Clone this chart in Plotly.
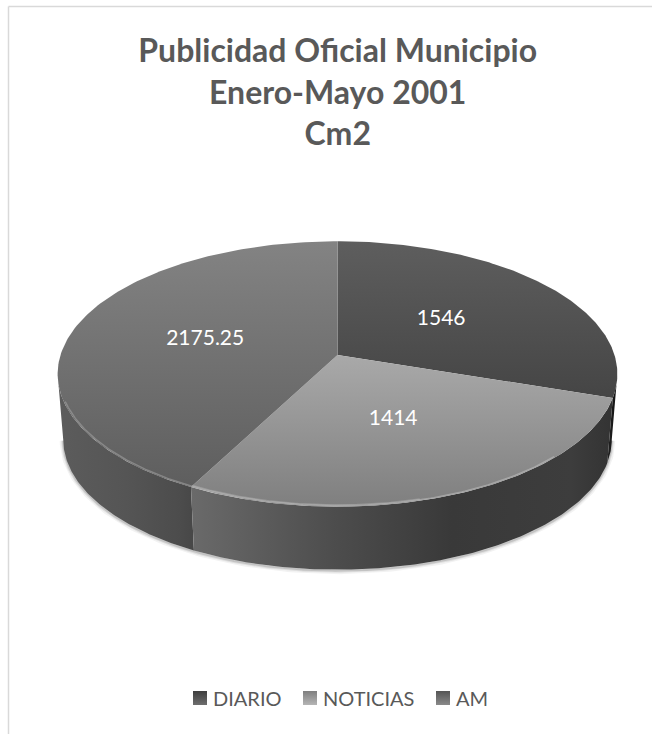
import numpy as np
import plotly.graph_objects as go

categories = ["DIARIO", "NOTICIAS", "AM"]
values = [1546, 1414, 2175.25]
value_labels = ["1546", "1414", "2175.25"]
title_lines = ["Publicidad Oficial Municipio", "Enero-Mayo 2001", "Cm2"]

# projection of the tilted pie, in page pixels
CX, CY = 337.5, 355
RX, RY = 277, 130
PERSP = 0.143
DEPTH = 66
BOTTOM_SCALE = 0.98
TEXT = "#595959"
FONT = "Lato"

top_fill = [
    ["#454545", "#5e5e5e"],
    ["#7f7f7f", "#a9a9a9"],
    ["#5e5e5e", "#838383"],
]
wall_fill = [
    [[0, "#222222"], [1, "#111111"]],
    [[0, "#6a6a6a"], [0.35, "#4c4c4c"], [0.62, "#393939"], [0.9, "#3d3d3d"], [1, "#333333"]],
    [[0, "#5c5c5c"], [0.5, "#555555"], [0.9, "#4c4c4c"], [1, "#474747"]],
]
legend_fill = [("#3e3e3e", "#6e6e6e"), ("#7f7f7f", "#b5b5b5"), ("#555555", "#8a8a8a")]
legend_x = [193, 303, 436]
label_r = [0.48, 0.5, 0.5]


def project(theta, r=1.0, bottom=False):
    w = 1 + PERSP * r * np.cos(theta)
    x = RX * r * np.sin(theta) / w
    y = -RY * r * np.cos(theta) / w
    if bottom:
        return CX + x * BOTTOM_SCALE, CY + DEPTH + y * BOTTOM_SCALE
    return CX + x, CY + y


edges = 2 * np.pi * np.concatenate([[0], np.cumsum(values)]) / sum(values)
# where the projected rim is widest, the wall starts and ends there
rim_right = np.arccos(-PERSP)
rim_left = 2 * np.pi - rim_right

fig = go.Figure()

# soft shadow under the disc
sx, sy = project(np.linspace(rim_right, rim_left, 200), bottom=True)
for width, alpha in [(7, 0.05), (4, 0.08), (2, 0.12)]:
    fig.add_trace(go.Scatter(x=sx, y=sy + 1, mode="lines", showlegend=False, hoverinfo="skip",
                             line=dict(color=f"rgba(0,0,0,{alpha})", width=width)))

# side walls, only the part facing us
for i in [0, 2, 1]:
    a0 = max(edges[i], rim_right)
    a1 = min(edges[i + 1], rim_left)
    t = np.linspace(a0, a1, 120)
    x0, y0 = project(t)
    x1, y1 = project(t[::-1], bottom=True)
    fig.add_trace(go.Scatter(
        x=np.r_[x0, x1], y=np.r_[y0, y1], mode="lines", fill="toself", showlegend=False,
        hoverinfo="skip", line=dict(width=0, color="rgba(0,0,0,0)"),
        fillgradient=dict(type="horizontal", colorscale=wall_fill[i]),
    ))

# top faces
for i in range(3):
    t = np.linspace(edges[i], edges[i + 1], 160)
    x, y = project(t)
    fig.add_trace(go.Scatter(
        x=np.r_[CX, x, CX], y=np.r_[CY, y, CY], mode="lines", fill="toself", showlegend=False,
        hoverinfo="skip", line=dict(width=0, color="rgba(0,0,0,0)"),
        fillgradient=dict(type="vertical", colorscale=[[0, top_fill[i][0]], [1, top_fill[i][1]]]),
    ))

# bevel highlight along the front rim
for a0, a1, r, color in [
    (np.radians(135), edges[2], 0.995, "rgba(205,205,205,0.45)"),
    (np.radians(165), edges[2], 0.99, "rgba(205,205,205,0.3)"),
    (edges[2], np.radians(250), 0.995, "rgba(165,165,165,0.55)"),
]:
    x, y = project(np.linspace(a0, a1, 120), r=r)
    fig.add_trace(go.Scatter(x=x, y=y, mode="lines", showlegend=False, hoverinfo="skip",
                             line=dict(color=color, width=1.5)))

# value labels
mids = (edges[:-1] + edges[1:]) / 2
lx, ly = project(mids, r=np.array(label_r))
fig.add_trace(go.Scatter(x=lx, y=ly, mode="text", text=value_labels, showlegend=False,
                         hoverinfo="skip", textposition="middle center",
                         textfont=dict(family=FONT, size=21, color="white")))

# legend entries, swatch right next to the name
for name, fill, x in zip(categories, legend_fill, legend_x):
    fig.add_trace(go.Scatter(x=[x + 7], y=[698], mode="markers", showlegend=False, hoverinfo="skip",
                             marker=dict(symbol="square", size=14, color=fill[0],
                                         gradient=dict(type="vertical", color=fill[1]),
                                         line=dict(width=0))))
    fig.add_annotation(x=x + 18, y=698, text=name, showarrow=False, xanchor="left",
                       font=dict(family=FONT, size=20, color=TEXT))

# chart frame
frame = dict(type="line", xref="x", yref="y", line=dict(color="#d9d9d9", width=1.5))
fig.add_shape(x0=8.5, x1=652, y0=6.5, y1=6.5, **frame)
fig.add_shape(x0=8.5, x1=8.5, y0=6.5, y1=734, **frame)

fig.update_layout(
    width=652,
    height=734,
    margin=dict(l=0, r=0, t=0, b=0),
    paper_bgcolor="white",
    plot_bgcolor="white",
    showlegend=False,
    title=dict(text="<b>" + "<br>".join(title_lines) + "</b>", x=0.518, xanchor="center",
               y=0.9154, yanchor="middle", font=dict(family=FONT, size=32, color=TEXT)),
    xaxis=dict(range=[0, 652], visible=False, fixedrange=True),
    yaxis=dict(range=[734, 0], visible=False, fixedrange=True),
)

fig.write_html("out.html", config=dict(displayModeBar=False),
               post_script="document.body.style.margin='0';")
